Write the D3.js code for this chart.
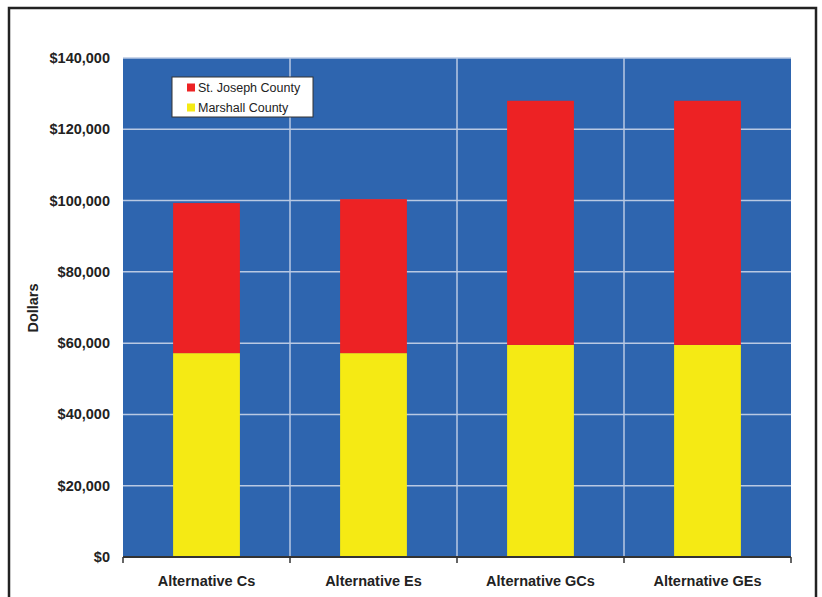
<!DOCTYPE html>
<html>
<head>
<meta charset="utf-8">
<script src="https://cdn.jsdelivr.net/npm/d3@7"></script>
<style>
  html, body { margin: 0; padding: 0; background: #fff; }
  svg { display: block; font-family: "Liberation Sans", Arial, sans-serif; }
</style>
</head>
<body>
<div id="chart"></div>
<script>
"use strict";

// chart data
var categories = ["Alternative Cs", "Alternative Es", "Alternative GCs", "Alternative GEs"];
var marshall   = [57200, 57200, 59500, 59500];
var stJoseph   = [42100, 43200, 68500, 68500];
var seriesNames = ["Marshall County", "St. Joseph County"];
var yTicks = [0, 20000, 40000, 60000, 80000, 100000, 120000, 140000];

// visual parameters
var svgWidth = 822, svgHeight = 597;
var plot = {left: 123, right: 791, top: 58, bottom: 557};
var PLOT_BG = "#2E65AF";
var GRID = "#B9C9E3";
var colors = {"Marshall County": "#F5EA14", "St. Joseph County": "#ED2224"};

var rows = categories.map(function(c, i) {
    return {cat: c, "Marshall County": marshall[i], "St. Joseph County": stJoseph[i]};
});

var svg = d3.select("#chart").append("svg")
    .attr("width", svgWidth)
    .attr("height", svgHeight);

// outer frame (runs off the bottom of the picture)
svg.append("rect")
    .attr("x", 9).attr("y", 8)
    .attr("width", 807).attr("height", 620)
    .attr("fill", "none")
    .attr("stroke", "#222")
    .attr("stroke-width", 2.5);

var x = d3.scaleBand()
    .domain(categories)
    .range([plot.left, plot.right])
    .paddingInner(0.6)
    .paddingOuter(0.3);

var y = d3.scaleLinear()
    .domain([0, 140000])
    .range([plot.bottom, plot.top]);

// plot background
svg.append("rect")
    .attr("x", plot.left).attr("y", plot.top)
    .attr("width", plot.right - plot.left)
    .attr("height", plot.bottom - plot.top)
    .attr("fill", PLOT_BG);

// horizontal gridlines
svg.append("g").selectAll("line")
    .data(yTicks.slice(1))
    .join("line")
    .attr("x1", plot.left).attr("x2", plot.right)
    .attr("y1", function(d) { return y(d); })
    .attr("y2", function(d) { return y(d); })
    .attr("stroke", GRID)
    .attr("stroke-width", 1.5);

// vertical gridlines between categories
var step = x.step();
svg.append("g").selectAll("line")
    .data(categories.slice(1))
    .join("line")
    .attr("x1", function(d) { return x(d) - x.paddingOuter() * step; })
    .attr("x2", function(d) { return x(d) - x.paddingOuter() * step; })
    .attr("y1", plot.top).attr("y2", plot.bottom)
    .attr("stroke", GRID)
    .attr("stroke-width", 1.5);

// stacked bars
var stack = d3.stack().keys(seriesNames)(rows);
svg.append("g").selectAll("g")
    .data(stack)
    .join("g")
    .attr("fill", function(s) { return colors[s.key]; })
    .selectAll("rect")
    .data(function(s) { return s; })
    .join("rect")
    .attr("x", function(d) { return x(d.data.cat); })
    .attr("width", x.bandwidth())
    .attr("y", function(d) { return y(d[1]); })
    .attr("height", function(d) { return y(d[0]) - y(d[1]); });

// x axis: line with ticks on the category boundaries
var xAxis = svg.append("g").attr("transform", "translate(0," + plot.bottom + ")");
xAxis.append("line")
    .attr("x1", plot.left).attr("x2", plot.right)
    .attr("stroke", "#333").attr("stroke-width", 2);
var bounds = d3.range(categories.length + 1).map(function(i) {
    return plot.left + i * step;
});
xAxis.selectAll("line.tick")
    .data(bounds)
    .join("line")
    .attr("class", "tick")
    .attr("x1", function(d) { return d; })
    .attr("x2", function(d) { return d; })
    .attr("y1", 0).attr("y2", 6)
    .attr("stroke", "#333").attr("stroke-width", 1.5);
xAxis.selectAll("text")
    .data(categories)
    .join("text")
    .attr("x", function(d) { return x(d) + x.bandwidth() / 2; })
    .attr("y", 29)
    .attr("text-anchor", "middle")
    .attr("font-size", "14.5px")
    .attr("font-weight", "bold")
    .attr("fill", "#222")
    .text(function(d) { return d; });

// y tick labels
var fmt = d3.format("$,.0f");
svg.append("g").selectAll("text")
    .data(yTicks)
    .join("text")
    .attr("x", 110)
    .attr("y", function(d) { return y(d) + 5; })
    .attr("text-anchor", "end")
    .attr("font-size", "14.5px")
    .attr("font-weight", "bold")
    .attr("fill", "#222")
    .text(function(d) { return fmt(d); });

// y axis title
svg.append("text")
    .attr("transform", "translate(38,308) rotate(-90)")
    .attr("text-anchor", "middle")
    .attr("font-size", "14.5px")
    .attr("font-weight", "bold")
    .attr("fill", "#222")
    .text("Dollars");

// legend
var legend = svg.append("g").attr("transform", "translate(172,77)");
legend.append("rect")
    .attr("width", 141).attr("height", 40)
    .attr("fill", "#fff")
    .attr("stroke", "#333").attr("stroke-width", 1);
var legendItems = seriesNames.slice().reverse();
var li = legend.selectAll("g.item")
    .data(legendItems)
    .join("g")
    .attr("class", "item")
    .attr("transform", function(d, i) { return "translate(0," + (i * 20) + ")"; });
li.append("rect")
    .attr("x", 15).attr("y", 6.5)
    .attr("width", 8).attr("height", 8)
    .attr("fill", function(d) { return colors[d]; });
li.append("text")
    .attr("x", 26).attr("y", 15)
    .attr("font-size", "12.5px")
    .attr("fill", "#222")
    .text(function(d) { return d; });
</script>
</body>
</html>
